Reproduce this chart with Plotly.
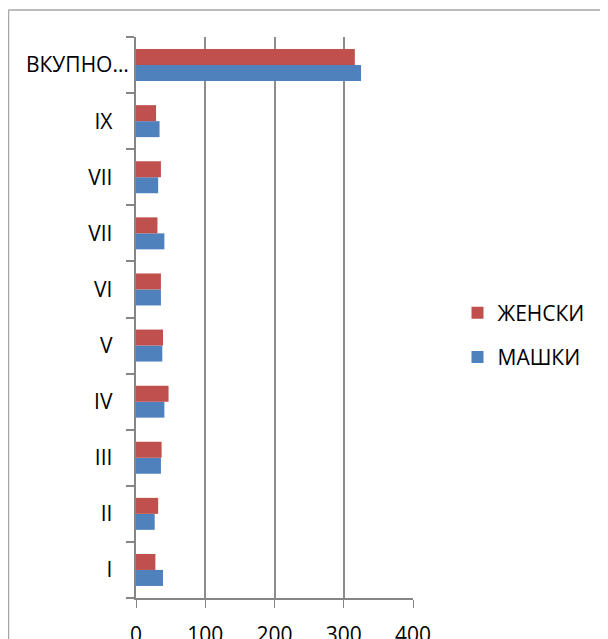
import plotly.graph_objects as go

categories = ["I", "II", "III", "IV", "V", "VI", "VII", "VII", "IX", "ВКУПНО…"]
mashki = [39, 27, 36, 41, 38, 36, 41, 32, 34, 325]
zhenski = [28, 32, 37, 47, 39, 36, 31, 36, 29, 316]
x_ticks = [0, 100, 200, 300, 400]

# page has an 8px body margin; the figure is sized to fit the visible window
OFF = 8
W, H = 608 - OFF, 639 - OFF
PL, PR, PT, PB = 136, 413, 37, 598          # plot area in page pixels
L, R, T, B = PL - OFF, W - (PR - OFF), PT - OFF, H - (PB - OFF)
pw, ph = W - L - R, H - T - B

def px_x(p):
    return (p - OFF - L) / pw

def px_y(p):
    return (H - B - (p - OFF)) / ph

pos = list(range(len(categories)))
# short labels sit a little further from the axis than the long truncated one
tick_text = [c if c.endswith("…") else c + "\u00a0\u00a0\u00a0" for c in categories]
FONT = "Open Sans"

fig = go.Figure()
fig.add_trace(go.Bar(y=pos, x=mashki, orientation="h", name="МАШКИ",
                     marker=dict(color="#4F81BD", line=dict(width=0)),
                     legendgroup="m", legendrank=2))
fig.add_trace(go.Bar(y=pos, x=zhenski, orientation="h", name="ЖЕНСКИ",
                     marker=dict(color="#C0504D", line=dict(width=0)),
                     legendgroup="z", legendrank=1))

fig.update_layout(
    width=W, height=H,
    margin=dict(l=L, r=R, t=T, b=B, autoexpand=False),
    paper_bgcolor="white", plot_bgcolor="white",
    barmode="group", bargap=0.43, bargroupgap=0,
    font=dict(family=FONT, size=21, color="#000000"),
    showlegend=True,
    legend=dict(traceorder="grouped", x=px_x(457.5), xanchor="left",
                y=px_y(335), yanchor="middle", tracegroupgap=14,
                font=dict(size=21, family=FONT), bgcolor="rgba(0,0,0,0)"),
    xaxis=dict(range=[0, 400], tickvals=x_ticks, ticks="outside", ticklen=8,
               tickcolor="#868686", showline=True, linecolor="#868686", linewidth=2,
               showgrid=True, gridcolor="#8c8c8c", gridwidth=2, zeroline=False,
               automargin=False, ticklabelstandoff=9,
               tickfont=dict(size=21, family=FONT)),
    yaxis=dict(range=[-0.5, len(categories) - 0.5], tickmode="array", tickvals=pos,
               ticktext=tick_text, ticks="", showline=True, linecolor="#868686",
               linewidth=2, showgrid=False, zeroline=False, ticklabelstandoff=1,
               automargin=False,
               minor=dict(tickmode="array",
                          tickvals=[i - 0.5 for i in range(len(categories) + 1)],
                          ticks="outside", ticklen=8, tickcolor="#868686",
                          tickwidth=2, showgrid=False),
               tickfont=dict(size=21, family=FONT)),
    shapes=[
        dict(type="line", xref="paper", yref="paper", x0=px_x(8.5), x1=px_x(8.5),
             y0=px_y(10), y1=px_y(650), line=dict(color="#a6a6a6", width=1.5)),
        dict(type="line", xref="paper", yref="paper", x0=px_x(8.5), x1=px_x(620),
             y0=px_y(10), y1=px_y(10), line=dict(color="#a6a6a6", width=1.5)),
    ],
)

fig.write_html("out.html")
